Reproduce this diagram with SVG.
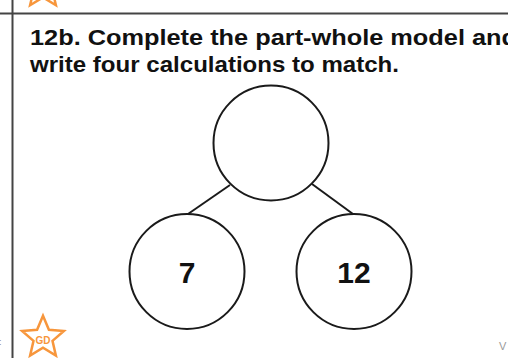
<svg xmlns="http://www.w3.org/2000/svg" width="508" height="358" viewBox="0 0 508 358">
<style>
.node{fill:#fff;stroke:#1a1a1a;stroke-width:2}
.num{font-family:"Liberation Sans",Arial,sans-serif;font-weight:bold;font-size:30px;fill:#111;text-anchor:middle}
.title{font-family:"Liberation Sans",Arial,sans-serif;font-weight:bold;font-size:22.5px;fill:#111}
.edge{stroke:#1a1a1a;stroke-width:2;fill:none}
.star{fill:#fff;stroke:#F7963C;stroke-width:2.5;stroke-linejoin:miter}
.grid{stroke:#444;stroke-width:2}
</style>
<defs>
<polygon id="starShape" points="0,-22 5.9,-8.1 20.9,-6.8 9.5,3.1 12.9,17.8 0,10 -12.9,17.8 -9.5,3.1 -20.9,-6.8 -5.9,-8.1"/>
</defs>
<rect width="508" height="358" fill="#fff"/>
<line class="grid" x1="0" y1="13.5" x2="508" y2="13.5"/>
<line class="grid" x1="12.5" y1="0" x2="12.5" y2="358"/>
<use href="#starShape" class="star" transform="translate(43,-12.6)"/>
<text class="title" x="30" y="45" textLength="487" lengthAdjust="spacingAndGlyphs">12b. Complete the part-whole model and</text>
<text class="title" x="30" y="72" textLength="369" lengthAdjust="spacingAndGlyphs">write four calculations to match.</text>
<g id="connectors">
<line class="edge" x1="230" y1="185" x2="188" y2="214"/>
<line class="edge" x1="312" y1="184" x2="353" y2="214"/>
</g>
<g id="whole"><circle class="node" cx="271" cy="143" r="57.5"/></g>
<g id="part-7"><circle class="node" cx="187" cy="271.5" r="57.5"/><text class="num" x="187" y="283">7</text></g>
<g id="part-12"><circle class="node" cx="354" cy="271.5" r="57.5"/><text class="num" x="354" y="283">12</text></g>
<g id="gd-star">
<use href="#starShape" class="star" transform="translate(43,337.8)"/>
<text x="43" y="344" font-family="Liberation Sans,Arial,sans-serif" font-weight="bold" font-size="10" fill="#F7963C" text-anchor="middle">GD</text>
</g>
<text x="-1" y="345" font-family="Liberation Sans,Arial,sans-serif" font-size="9" fill="#888">:</text>
<text x="499" y="350" font-family="Liberation Sans,Arial,sans-serif" font-size="11" fill="#999">V</text>
</svg>
